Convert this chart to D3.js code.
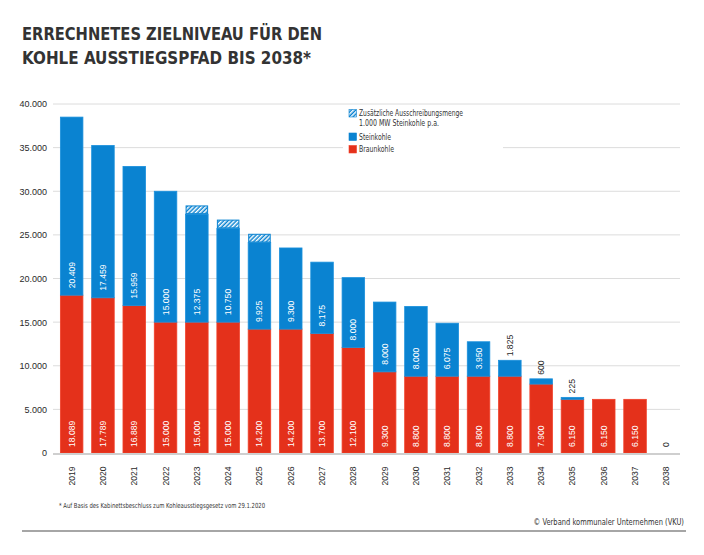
<!DOCTYPE html>
<html><head><meta charset="utf-8">
<script src="https://cdn.jsdelivr.net/npm/d3@7"></script>
<style>
html,body{margin:0;padding:0;background:#fff;}
svg{display:block;}
</style></head>
<body>
<svg id="c" width="704" height="555"></svg>
<script>
const years = ["2019","2020","2021","2022","2023","2024","2025","2026","2027","2028","2029","2030","2031","2032","2033","2034","2035","2036","2037","2038"];
const braunkohle = [18089,17789,16889,15000,15000,15000,14200,14200,13700,12100,9300,8800,8800,8800,8800,7900,6150,6150,6150,0];
const steinkohle = [20409,17459,15959,15000,12375,10750,9925,9300,8175,8000,8000,8000,6075,3950,1825,600,225,0,0,0];
const zusatz = [0,0,0,0,1000,1000,1000,0,0,0,0,0,0,0,0,0,0,0,0,0];
const yTicks = [0,5000,10000,15000,20000,25000,30000,35000,40000];
const titleLines = ["ERRECHNETES ZIELNIVEAU FÜR DEN","KOHLE AUSSTIEGSPFAD BIS 2038*"];
const legendItems = [
  {key:"zusatz", lines:["Zusätzliche Ausschreibungsmenge","1.000 MW Steinkohle p.a."]},
  {key:"stein", lines:["Steinkohle"]},
  {key:"braun", lines:["Braunkohle"]}
];
const footnote = "* Auf Basis des Kabinettsbeschluss zum Kohleausstiegsgesetz vom 29.1.2020";
const credit = "© Verband kommunaler Unternehmen (VKU)";

const BLUE = "#0a83d1", RED = "#e4311b", DARK = "#2a2a2a";
const loc = d3.formatLocale({decimal:",", thousands:".", grouping:[3], currency:["","€"]});
const fmt = loc.format(",d");
const NUM = "'Liberation Sans', Arial, sans-serif";
const NARROW = "'Liberation Sans Narrow', 'DejaVu Sans Condensed', 'Liberation Sans', sans-serif";

const svg = d3.select("#c");
const defs = svg.append("defs");
const pat = defs.append("pattern").attr("id","hatch").attr("patternUnits","userSpaceOnUse")
  .attr("width",3).attr("height",3).attr("patternTransform","rotate(45)");
pat.append("rect").attr("width",3).attr("height",3).attr("fill",BLUE);
pat.append("rect").attr("width",1.5).attr("height",3).attr("fill","#fff");

// Title
const titleW = [300, 289];
svg.append("g").selectAll("text").data(titleLines).join("text")
  .attr("x",22).attr("y",(d,i)=>39.5+i*24.5)
  .attr("font-family",NARROW).attr("font-weight","bold").attr("font-size",18.5)
  .attr("textLength",(d,i)=>titleW[i]).attr("lengthAdjust","spacingAndGlyphs")
  .attr("fill","#333").text(d=>d);

const x = d3.scaleBand().domain(years).range([56,682]).paddingInner(0.28).paddingOuter(0.14);
const y = d3.scaleLinear().domain([0,40000]).range([453,104]);

// gridlines
svg.append("g").selectAll("line").data(yTicks.filter(t=>t>0)).join("line")
  .attr("x1",53).attr("x2",680).attr("y1",d=>y(d)).attr("y2",d=>y(d))
  .attr("stroke","#dcdcdc").attr("stroke-width",1);

// y axis labels
const yAxis = d3.axisLeft(y).tickValues(yTicks).tickFormat(fmt).tickSize(0).tickPadding(0);
const ya = svg.append("g").attr("transform","translate(47,0)").call(yAxis);
ya.select(".domain").remove();
ya.selectAll("text").attr("font-family",NUM).attr("font-size",9).attr("fill",DARK);

// legend background
svg.append("rect").attr("x",343).attr("y",107).attr("width",160).attr("height",51).attr("fill","#fff");

// bars
const g = svg.append("g");
const bw = x.bandwidth();
years.forEach((yr,i)=>{
  const b = braunkohle[i], s = steinkohle[i], z = zusatz[i];
  const x0 = x(yr);
  if (b>0) g.append("rect").attr("x",x0).attr("y",y(b)).attr("width",bw).attr("height",y(0)-y(b))
    .attr("fill",RED).attr("stroke","#f0402a").attr("stroke-width",0.8);
  if (s>0) g.append("rect").attr("x",x0).attr("y",y(b+s)).attr("width",bw).attr("height",y(b)-y(b+s))
    .attr("fill",BLUE).attr("stroke","#1a90dc").attr("stroke-width",0.8);
  if (z>0) g.append("rect").attr("x",x0+0.5).attr("y",y(b+s+z)+0.5).attr("width",bw-1).attr("height",y(b+s)-y(b+s+z)-1)
    .attr("fill","url(#hatch)").attr("stroke",BLUE).attr("stroke-width",1);
});

// baseline
svg.append("line").attr("x1",53).attr("x2",680).attr("y1",454).attr("y2",454)
  .attr("stroke","#cfcfcf").attr("stroke-width",2);

function vlabel(cx, yb, txt, col){
  g.append("text").attr("transform",`translate(${cx+3},${yb}) rotate(-90)`)
    .attr("text-anchor","start").attr("font-family",NUM).attr("font-size",8.6)
    .attr("fill",col).text(txt);
}
years.forEach((yr,i)=>{
  const cx = x(yr)+bw/2;
  const b = braunkohle[i], s = steinkohle[i];
  vlabel(cx, y(0)-6, fmt(b), b>0 ? "#fff" : DARK);
  if (s>=3000) vlabel(cx, y(b)-7, fmt(s), "#fff");
  else if (s>0) vlabel(cx, y(b+s)-4, fmt(s), DARK);
});

// x labels
svg.append("g").selectAll("text").data(years).join("text")
  .attr("transform",d=>`translate(${x(d)+bw/2+3},476) rotate(-90)`)
  .attr("text-anchor","middle").attr("font-family",NUM).attr("font-size",8.6)
  .attr("fill",DARK).text(d=>d);

// legend
const lg = svg.append("g");
const fills = {zusatz:"url(#hatch)", stein:BLUE, braun:RED};
const legW = {zusatz:[104,80], stein:[32], braun:[35]};
const rowY = [109.5, 133, 145.5];
legendItems.forEach((it,i)=>{
  lg.append("rect").attr("x",349).attr("y",rowY[i]).attr("width",7.5).attr("height",7.5)
    .attr("fill",fills[it.key]).attr("stroke",it.key==="braun"?"#f0402a":BLUE).attr("stroke-width",0.6);
  it.lines.forEach((ln,j)=>{
    lg.append("text").attr("x",359).attr("y",rowY[i]+6.5+j*10)
      .attr("font-family",NARROW).attr("font-size",8).attr("fill","#333")
      .attr("textLength",legW[it.key][j]).attr("lengthAdjust","spacingAndGlyphs").text(ln);
  });
});

// footnote & credit
svg.append("text").attr("x",59).attr("y",508).attr("font-family",NARROW).attr("font-size",7)
  .attr("textLength",206).attr("lengthAdjust","spacingAndGlyphs")
  .attr("fill","#333").text(footnote);
svg.append("text").attr("transform","translate(684,525) scale(0.83,1)").attr("text-anchor","end")
  .attr("font-family",NARROW).attr("font-size",9)
  .attr("fill","#333").text(credit);
svg.append("line").attr("x1",22).attr("x2",686).attr("y1",531).attr("y2",531)
  .attr("stroke","#888").attr("stroke-width",1.5);
</script>
</body></html>
